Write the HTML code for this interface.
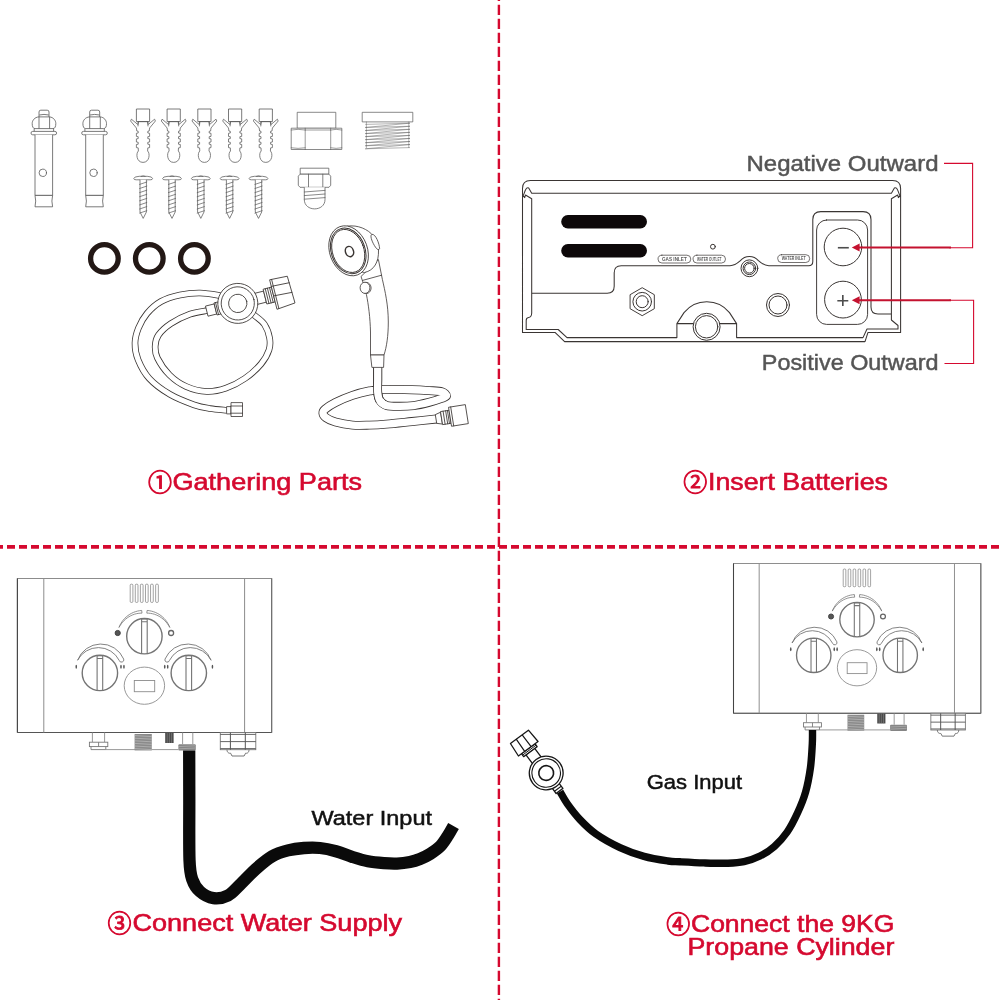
<!DOCTYPE html>
<html lang="en"><head><meta charset="utf-8"><title>Installation steps</title>
<style>
html,body{margin:0;padding:0;background:#fff;}
body{width:1000px;height:1000px;overflow:hidden;}
svg{display:block;will-change:transform;}
text{font-family:"Liberation Sans","DejaVu Sans",sans-serif;}
.t{fill:#d5092f;font-size:24px;stroke:#d5092f;stroke-width:.6px;}
.c{font-family:"Liberation Sans","Noto Sans CJK SC",sans-serif;font-size:24px;stroke-width:.9px;}
.g{fill:#555;font-size:21.5px;stroke:#555;stroke-width:.45px;}
.b{fill:#111;font-size:20.5px;stroke:#111;stroke-width:.5px;}
.l{fill:none;stroke:#3a3533;stroke-width:.8;stroke-linejoin:round;stroke-linecap:round;}
.w{fill:#fff;stroke:#3a3533;stroke-width:.8;stroke-linejoin:round;}
.q2 .l,.q2 .w{stroke-width:1;}
.sm .l,.sm .w{stroke:#585858;}
</style></head><body>
<svg width="1000" height="1000" viewBox="0 0 1000 1000">
<rect width="1000" height="1000" fill="#fff"/>
<line x1="498.9" y1="-9.2" x2="498.9" y2="1000" stroke="#d5092f" stroke-width="2.4" stroke-dasharray="10.3 3.7"/>
<line x1="-5" y1="546.9" x2="1000" y2="546.9" stroke="#d5092f" stroke-width="3.8" stroke-dasharray="8 4"/>
<text class="t c" x="160" y="491.09999999999997" text-anchor="middle">①</text>
<text class="t" x="172.5" y="490.2" textLength="189.5" lengthAdjust="spacingAndGlyphs">Gathering Parts</text>
<text class="t c" x="695.2" y="491.09999999999997" text-anchor="middle">②</text>
<text class="t" x="708" y="490.2" textLength="180" lengthAdjust="spacingAndGlyphs">Insert Batteries</text>
<text class="t c" x="119.5" y="931.9" text-anchor="middle">③</text>
<text class="t" x="132.5" y="931" textLength="269.5" lengthAdjust="spacingAndGlyphs">Connect Water Supply</text>
<text class="t c" x="678.3" y="932.5" text-anchor="middle">④</text>
<text class="t" x="691" y="931.6" textLength="203.29999999999995" lengthAdjust="spacingAndGlyphs">Connect the 9KG</text>
<text class="t" x="687.5" y="954.8" textLength="206.79999999999995" lengthAdjust="spacingAndGlyphs">Propane Cylinder</text>
<text class="g" x="746.5" y="171.3" textLength="192.0" lengthAdjust="spacingAndGlyphs">Negative Outward</text>
<text class="g" x="761.8" y="370.3" textLength="176.70000000000005" lengthAdjust="spacingAndGlyphs">Positive Outward</text>
<text class="b" x="311.5" y="825.3" textLength="120.5" lengthAdjust="spacingAndGlyphs">Water Input</text>
<text class="b" x="646.8" y="788.7" textLength="95.20000000000005" lengthAdjust="spacingAndGlyphs">Gas Input</text>
<circle cx="104.4" cy="258.4" r="13.8" fill="none" stroke="#231815" stroke-width="5.3"/>
<circle cx="149.3" cy="258.4" r="13.8" fill="none" stroke="#231815" stroke-width="5.3"/>
<circle cx="194.4" cy="258.4" r="13.8" fill="none" stroke="#231815" stroke-width="5.3"/>
<defs><g id="heater"><rect x="17.4" y="578.5" width="254.3" height="154" fill="#fff" stroke="#8c8c8c" stroke-width="1"/><line x1="17.4" y1="578.5" x2="17.4" y2="732.5" stroke="#444" stroke-width="1.1"/><line x1="17.4" y1="732.5" x2="271.7" y2="732.5" stroke="#555" stroke-width="1.2"/><line x1="271.7" y1="578.5" x2="271.7" y2="732.5" stroke="#666" stroke-width="1"/><line x1="43.8" y1="578.5" x2="43.8" y2="732.5" stroke="#8c8c8c" stroke-width="1"/><line x1="244.6" y1="578.5" x2="244.6" y2="732.5" stroke="#8c8c8c" stroke-width="1"/><rect x="130.20" y="584.2" width="2.7" height="18.2" rx="1" fill="none" stroke="#7a7a7a" stroke-width=".7"/><rect x="135.29" y="584.2" width="2.7" height="18.2" rx="1" fill="none" stroke="#7a7a7a" stroke-width=".7"/><rect x="140.38" y="584.2" width="2.7" height="18.2" rx="1" fill="none" stroke="#7a7a7a" stroke-width=".7"/><rect x="145.47" y="584.2" width="2.7" height="18.2" rx="1" fill="none" stroke="#7a7a7a" stroke-width=".7"/><rect x="150.56" y="584.2" width="2.7" height="18.2" rx="1" fill="none" stroke="#7a7a7a" stroke-width=".7"/><rect x="155.65" y="584.2" width="2.7" height="18.2" rx="1" fill="none" stroke="#7a7a7a" stroke-width=".7"/><circle cx="144.4" cy="636.2" r="17.7" fill="#fff" stroke="#747474" stroke-width="1.4"/><path d="M141.6 653.6V619.0H147.20000000000002V653.6M141.6 621.8000000000001H147.20000000000002" fill="none" stroke="#747474" stroke-width="1.1"/><circle cx="99.9" cy="672.9" r="17.7" fill="#fff" stroke="#747474" stroke-width="1.4"/><path d="M97.10000000000001 690.3V655.6999999999999H102.7V690.3M97.10000000000001 658.5H102.7" fill="none" stroke="#747474" stroke-width="1.1"/><circle cx="188.8" cy="672.9" r="17.7" fill="#fff" stroke="#747474" stroke-width="1.4"/><path d="M186.0 690.3V655.6999999999999H191.60000000000002V690.3M186.0 658.5H191.60000000000002" fill="none" stroke="#747474" stroke-width="1.1"/><ellipse cx="144.4" cy="685.7" rx="20.2" ry="18.6" fill="none" stroke="#8c8c8c" stroke-width=".9"/><rect x="134.3" y="680.5" width="20.4" height="11.2" fill="none" stroke="#8c8c8c" stroke-width=".9"/><path d="M141.69 610.44 L139.60 610.68 L137.53 611.08 L135.50 611.65 L133.51 612.39 L131.58 613.28 L129.73 614.34 L127.97 615.54 L126.30 616.89 L124.74 618.37 L123.31 619.97 L122.00 621.69 L120.84 623.52 L119.82 625.44 L118.97 627.44 L118.97 627.44 L120.12 625.57 L121.34 623.79 L122.66 622.12 L124.09 620.58 L125.62 619.16 L127.24 617.89 L128.93 616.75 L130.69 615.77 L132.51 614.94 L134.37 614.26 L136.26 613.74 L138.16 613.38 L140.07 613.18 L141.97 613.13Z" fill="#fff" stroke="#747474" stroke-width=".8" stroke-linejoin="round"/><path d="M147.11 610.44 L149.20 610.68 L151.27 611.08 L153.30 611.65 L155.29 612.39 L157.22 613.28 L159.07 614.34 L160.83 615.54 L162.50 616.89 L164.06 618.37 L165.49 619.97 L166.80 621.69 L167.96 623.52 L168.98 625.44 L169.83 627.44 L169.83 627.44 L168.68 625.57 L167.46 623.79 L166.14 622.12 L164.71 620.58 L163.18 619.16 L161.56 617.89 L159.87 616.75 L158.11 615.77 L156.29 614.94 L154.43 614.26 L152.54 613.74 L150.64 613.38 L148.73 613.18 L146.83 613.13Z" fill="#fff" stroke="#747474" stroke-width=".8" stroke-linejoin="round"/><circle cx="117.7" cy="633" r="2.6" fill="#555" stroke="#444" stroke-width="1"/><circle cx="171.1" cy="633" r="2.5" fill="#fff" stroke="#666" stroke-width="1.3"/><path d="M77.60 660.25 A24.81 24.81 0 0 1 123.69 659.08 A2.3 2.3 0 0 1 119.28 660.52 A23.37 23.37 0 0 0 77.60 660.25Z" fill="#fff" stroke="#747474" stroke-width=".9" stroke-linejoin="round"/><ellipse cx="76.25" cy="666.73" rx=".8" ry="2" fill="#555"/><ellipse cx="120.99" cy="666.73" rx=".8" ry="2" fill="#555"/><ellipse cx="123.96" cy="666.73" rx=".8" ry="2" fill="#555"/><path d="M211.10 660.25 A24.81 24.81 0 0 0 165.01 659.08 A2.3 2.3 0 0 0 169.42 660.52 A23.37 23.37 0 0 1 211.10 660.25Z" fill="#fff" stroke="#747474" stroke-width=".9" stroke-linejoin="round"/><ellipse cx="212.45" cy="666.73" rx=".8" ry="2" fill="#555"/><ellipse cx="167.71" cy="666.73" rx=".8" ry="2" fill="#555"/><ellipse cx="164.74" cy="666.73" rx=".8" ry="2" fill="#555"/><path d="M92.4 732.5V742.2M104.6 732.5V742.2" stroke="#8c8c8c" stroke-width=".9" fill="none"/><rect x="89.4" y="742.2" width="18.4" height="4.4" fill="#fff" stroke="#777" stroke-width=".9"/><path d="M98.6 742.2V746.6M91 746.6V749.6H105.8V746.6" stroke="#777" stroke-width=".9" fill="none"/><line x1="105.8" y1="749.6" x2="178.4" y2="749.6" stroke="#8c8c8c" stroke-width=".9"/><rect x="134.6" y="734" width="17.2" height="16.4" fill="#8b8b8b"/><line x1="134.6" y1="735.6" x2="151.8" y2="736.6" stroke="#c4c4c4" stroke-width=".6"/><line x1="134.6" y1="738.2" x2="151.8" y2="739.2" stroke="#c4c4c4" stroke-width=".6"/><line x1="134.6" y1="740.8" x2="151.8" y2="741.8" stroke="#c4c4c4" stroke-width=".6"/><line x1="134.6" y1="743.4" x2="151.8" y2="744.4" stroke="#c4c4c4" stroke-width=".6"/><line x1="134.6" y1="746.0" x2="151.8" y2="747.0" stroke="#c4c4c4" stroke-width=".6"/><line x1="134.6" y1="748.6" x2="151.8" y2="749.6" stroke="#c4c4c4" stroke-width=".6"/><rect x="165.2" y="732.8" width="8.4" height="10.2" fill="#4a4a4a"/><line x1="167.2" y1="733" x2="167.2" y2="743" stroke="#999" stroke-width=".5"/><line x1="169.4" y1="733" x2="169.4" y2="743" stroke="#999" stroke-width=".5"/><line x1="171.6" y1="733" x2="171.6" y2="743" stroke="#999" stroke-width=".5"/><path d="M182.6 732.5V744.2M192.8 732.5V744.2" stroke="#8c8c8c" stroke-width=".9" fill="none"/><rect x="178.4" y="744.2" width="17.4" height="6.4" rx="1" fill="#858585"/><line x1="179" y1="746.6" x2="195.4" y2="745.8" stroke="#b8b8b8" stroke-width=".6"/><line x1="179" y1="748.8" x2="195.4" y2="748.0" stroke="#b8b8b8" stroke-width=".6"/><rect x="220.3" y="732.5" width="35.5" height="17.2" fill="#fff" stroke="#777" stroke-width=".9"/><path d="M220.3 734.4H255.8M220.3 741.6H255.8M220.3 748.6H255.8" stroke="#555" stroke-width=".9" fill="none"/><path d="M230.4 732.5V749.7M245.3 732.5V749.7" stroke="#555" stroke-width="1" fill="none"/><path d="M227 749.7C227 753 229.5 753.5 230.6 753.2L232 756H244.1L245.6 753.2C246.8 753.5 249 753 249 749.7" stroke="#666" stroke-width=".9" fill="none"/></g></defs>
<use href="#heater"/>
<path d="M189.20 750.60 C189.22 758.83 189.25 781.77 189.30 800.00 C189.35 818.23 189.00 846.75 189.50 860.00 C190.00 873.25 190.55 874.25 192.30 879.50 C194.05 884.75 196.47 888.38 200.00 891.50 C203.53 894.62 208.83 897.53 213.50 898.20 C218.17 898.87 223.58 897.73 228.00 895.50 C232.42 893.27 235.33 889.25 240.00 884.80 C244.67 880.35 250.67 873.55 256.00 868.80 C261.33 864.05 266.67 859.37 272.00 856.30 C277.33 853.23 282.67 851.78 288.00 850.40 C293.33 849.02 298.67 848.40 304.00 848.00 C309.33 847.60 314.67 847.47 320.00 848.00 C325.33 848.53 330.67 849.73 336.00 851.20 C341.33 852.67 346.67 855.12 352.00 856.80 C357.33 858.48 362.67 860.23 368.00 861.30 C373.33 862.37 379.17 862.82 384.00 863.20 C388.83 863.58 392.67 863.80 397.00 863.60 C401.33 863.40 406.17 862.77 410.00 862.00 C413.83 861.23 416.67 860.33 420.00 859.00 C423.33 857.67 426.58 856.17 430.00 854.00 C433.42 851.83 437.50 849.08 440.50 846.00 C443.50 842.92 445.83 838.83 448.00 835.50 C450.17 832.17 452.58 827.58 453.50 826.00" fill="none" stroke="#0a0a0a" stroke-width="12.3" stroke-linejoin="round"/>
<use href="#heater" transform="translate(733.5 563.5) scale(0.9726) translate(-17.4 -578.5)"/>
<path d="M812.50 730.00 C812.47 732.33 812.65 737.67 812.30 744.00 C811.95 750.33 811.52 760.00 810.40 768.00 C809.28 776.00 807.73 784.53 805.60 792.00 C803.47 799.47 800.67 806.13 797.60 812.80 C794.53 819.47 791.07 826.40 787.20 832.00 C783.33 837.60 778.93 842.40 774.40 846.40 C769.87 850.40 765.07 853.47 760.00 856.00 C754.93 858.53 749.33 860.40 744.00 861.60 C738.67 862.80 734.67 862.98 728.00 863.20 C721.33 863.42 712.00 863.13 704.00 862.90 C696.00 862.67 686.00 862.12 680.00 861.80 C674.00 861.48 674.00 861.90 668.00 861.00 C662.00 860.10 652.00 858.63 644.00 856.40 C636.00 854.17 628.00 851.33 620.00 847.60 C612.00 843.87 602.67 838.67 596.00 834.00 C589.33 829.33 584.80 824.67 580.00 819.60 C575.20 814.53 570.53 808.27 567.20 803.60 C563.87 798.93 561.20 793.60 560.00 791.60" fill="none" stroke="#0a0a0a" stroke-width="7.4" stroke-linejoin="round"/>
<g class="q2">
<path class="l" d="M530.5 180.5H892.6Q900.6 180.5 900.6 188.5V332.4H868L865 341.6H564.6L555 332.4H522.5V188.5Q522.5 180.5 530.5 180.5Z M523.3 195.6L525.1 190.8Q526.5 186.8 528.7 188L531.7 193.2H891.4L894.4 188Q896.6 186.8 898 190.8L899.8 195.6 M891.4 198.8L897.6 195L898.4 197.6L900.4 195.4 M531.7 198.8L525.5 195L524.7 197.6L522.7 195.4 M531.7 198.8V313Q531.6 317.2 528.5 317.6Q526.2 318 526.2 320.5V329.5H558.2L567 337.6H676.9V323.6 M736.6 323.6V337.6H863L867 329H898V325.5L891.4 320V198.8 M531.6 293.2H607.2Q614.2 293.2 614.2 286.2V272.7Q614.2 265.7 621.2 265.7H730C735 265.7 737.6 263.2 740.4 260.7A11.8 11.8 0 0 1 758.4 260.7C761.2 263.2 763.8 265.7 768.8 265.7H808.6Q812.8 265.7 812.8 261.5V219.6Q812.8 211.6 820.8 211.6H863Q871 211.6 871 219.6V307Q871 314 878 314H891.2 M676.9 323.6L684 312.6A29.2 29.2 0 0 1 729.5 312.6L736.6 323.6 M676.9 323.6H736.6" style="stroke-width:1.05"/>
<rect x="561.2" y="215" width="85.8" height="13.4" rx="6.7" fill="#0d0809"/>
<rect x="561.2" y="244" width="85.8" height="13.4" rx="6.7" fill="#0d0809"/>
<path class="w" d="M642.20 287.70 L654.32 294.70 L654.32 308.70 L642.20 315.70 L630.08 308.70 L630.08 294.70Z" style="stroke-width:.95"/>
<circle class="l" cx="642.2" cy="301.7" r="9.3"/><circle class="l" cx="642.2" cy="301.7" r="6"/>
<circle class="w" cx="706.6" cy="326.8" r="13.5"/><circle class="l" cx="706.6" cy="326.8" r="11.2"/>
<circle class="l" cx="749.4" cy="268.3" r="8.4"/><circle class="l" cx="749.4" cy="268.3" r="6.3"/><circle class="l" cx="749.4" cy="268.3" r="4.8"/>
<circle class="l" cx="712.9" cy="246.7" r="2.4"/>
<circle class="l" cx="778" cy="305" r="11.5"/><circle class="l" cx="778" cy="305" r="9"/>
<rect class="l" x="658" y="255.2" width="32.799999999999955" height="7.800000000000011" rx="3.9000000000000057" style="stroke-width:.7"/>
<text x="674.4" y="260.8" text-anchor="middle" font-size="4.6" font-weight="bold" fill="#5a5a5a" textLength="24.799999999999955" lengthAdjust="spacingAndGlyphs">GAS INLET</text>
<rect class="l" x="693" y="255.2" width="32.5" height="7.800000000000011" rx="3.9000000000000057" style="stroke-width:.7"/>
<text x="709.25" y="260.8" text-anchor="middle" font-size="4.6" font-weight="bold" fill="#5a5a5a" textLength="24.5" lengthAdjust="spacingAndGlyphs">WATER OUTLET</text>
<rect class="l" x="777.7" y="254.7" width="32.0" height="7.800000000000011" rx="3.9000000000000057" style="stroke-width:.7"/>
<text x="793.7" y="260.3" text-anchor="middle" font-size="4.6" font-weight="bold" fill="#5a5a5a" textLength="24.0" lengthAdjust="spacingAndGlyphs">WATER INLET</text>
<rect class="l" x="816.6" y="220" width="51" height="104.4" rx="10" style="stroke-width:.95"/>
<circle class="l" cx="843" cy="247" r="18.8"/><circle class="l" cx="843" cy="299.6" r="18.4"/>
<text x="843.2" y="254.9" text-anchor="middle" fill="#4d4d4d" style="font-size:22.5px">−</text>
<text x="842.9" y="308" text-anchor="middle" fill="#4d4d4d" style="font-size:22.5px">+</text>
<path d="M944 163.4H972.6V247.8H949 M949 300.3H973.6V363.5H944.5" fill="none" stroke="#d5092f" stroke-width="1.1"/>
<path d="M857 247.6H951 M857 300.2H951" fill="none" stroke="#c4122f" stroke-width="2"/>
<path d="M851.8 247.6L859.6 243.6V251.6Z M851.8 300.2L859.6 296.2V304.2Z" fill="#c4122f"/>
</g>
<g class="sm">
<path class="w" d="M39 117V112Q39 110.2 40.8 110.2H47.2Q49 110.2 49 112V117 M38.9 116.9C34.5 117.2 32.2 120.5 32.2 123.5C32.2 126.5 33 128.6 35 128.6H53C55 128.6 55.8 126.5 55.8 123.5C55.8 120.5 53.5 117.2 49.4 116.9Z M39 116.9V128.6M49.6 116.9V128.6 M39.2 115Q44 113.8 48.8 115 M34.2 128.6V131.4M53.6 128.6V131.4"/>
<rect class="w" x="31" y="131.4" width="25.6" height="3.4" rx="1.7"/>
<path class="w" d="M35 134.8V195.4H52.6V134.8"/>
<circle class="l" cx="42.8" cy="172.8" r="3.7"/>
<path class="w" d="M35 195.4Q36.4 201 35 206.8H52.6Q51.2 201 52.6 195.4Z"/>
<path class="w" d="M89.7 117V112Q89.7 110.2 91.5 110.2H97.9Q99.7 110.2 99.7 112V117 M89.6 116.9C85.2 117.2 82.9 120.5 82.9 123.5C82.9 126.5 83.7 128.6 85.7 128.6H103.7C105.7 128.6 106.5 126.5 106.5 123.5C106.5 120.5 104.2 117.2 100.1 116.9Z M89.7 116.9V128.6M100.30000000000001 116.9V128.6 M89.9 115Q94.7 113.8 99.5 115 M84.9 128.6V131.4M104.30000000000001 128.6V131.4"/>
<rect class="w" x="81.7" y="131.4" width="25.6" height="3.4" rx="1.7"/>
<path class="w" d="M85.7 134.8V195.4H103.30000000000001V134.8"/>
<circle class="l" cx="93.5" cy="172.8" r="3.7"/>
<path class="w" d="M85.7 195.4Q87.1 201 85.7 206.8H103.30000000000001Q101.9 201 103.30000000000001 195.4Z"/>
<rect class="w" x="136.4" y="109" width="13.2" height="12.6"/>
<path class="w" d="M147.80 121.60 L148.20 124.50 L154.60 119.20 L155.40 121.00 L149.60 128.00 L149.20 131.00 L147.80 131.30 L147.80 133.00 L149.60 133.30 L149.60 136.40 L147.80 136.70 L147.80 138.60 L149.60 138.90 L149.60 142.00 L147.80 142.30 L147.80 144.20 L149.60 144.50 L149.60 147.60 L147.80 147.90 L147.60 151.00 C150.20 153 149.80 162.4 143.00 162.4 C136.20 162.4 135.80 153 138.40 151 L138.20 147.90 L136.40 147.60 L136.40 144.50 L138.20 144.20 L138.20 142.30 L136.40 142.00 L136.40 138.90 L138.20 138.60 L138.20 136.70 L136.40 136.40 L136.40 133.30 L138.20 133.00 L138.20 131.30 L136.80 131.00 L136.40 128.00 L130.60 121.00 L131.40 119.20 L137.80 124.50 L138.20 121.60Z" style="stroke-width:.75"/>
<path class="l" d="M138 121.6H148 M138.4 122.4L138 126 M147.6 122.4L148 126" style="stroke-width:.75"/>
<rect class="w" x="167.1" y="109" width="13.2" height="12.6"/>
<path class="w" d="M178.50 121.60 L178.90 124.50 L185.30 119.20 L186.10 121.00 L180.30 128.00 L179.90 131.00 L178.50 131.30 L178.50 133.00 L180.30 133.30 L180.30 136.40 L178.50 136.70 L178.50 138.60 L180.30 138.90 L180.30 142.00 L178.50 142.30 L178.50 144.20 L180.30 144.50 L180.30 147.60 L178.50 147.90 L178.30 151.00 C180.90 153 180.50 162.4 173.70 162.4 C166.90 162.4 166.50 153 169.10 151 L168.90 147.90 L167.10 147.60 L167.10 144.50 L168.90 144.20 L168.90 142.30 L167.10 142.00 L167.10 138.90 L168.90 138.60 L168.90 136.70 L167.10 136.40 L167.10 133.30 L168.90 133.00 L168.90 131.30 L167.50 131.00 L167.10 128.00 L161.30 121.00 L162.10 119.20 L168.50 124.50 L168.90 121.60Z" style="stroke-width:.75"/>
<path class="l" d="M168.7 121.6H178.7 M169.1 122.4L168.7 126 M178.29999999999998 122.4L178.7 126" style="stroke-width:.75"/>
<rect class="w" x="197.8" y="109" width="13.2" height="12.6"/>
<path class="w" d="M209.20 121.60 L209.60 124.50 L216.00 119.20 L216.80 121.00 L211.00 128.00 L210.60 131.00 L209.20 131.30 L209.20 133.00 L211.00 133.30 L211.00 136.40 L209.20 136.70 L209.20 138.60 L211.00 138.90 L211.00 142.00 L209.20 142.30 L209.20 144.20 L211.00 144.50 L211.00 147.60 L209.20 147.90 L209.00 151.00 C211.60 153 211.20 162.4 204.40 162.4 C197.60 162.4 197.20 153 199.80 151 L199.60 147.90 L197.80 147.60 L197.80 144.50 L199.60 144.20 L199.60 142.30 L197.80 142.00 L197.80 138.90 L199.60 138.60 L199.60 136.70 L197.80 136.40 L197.80 133.30 L199.60 133.00 L199.60 131.30 L198.20 131.00 L197.80 128.00 L192.00 121.00 L192.80 119.20 L199.20 124.50 L199.60 121.60Z" style="stroke-width:.75"/>
<path class="l" d="M199.4 121.6H209.4 M199.8 122.4L199.4 126 M209.0 122.4L209.4 126" style="stroke-width:.75"/>
<rect class="w" x="228.5" y="109" width="13.2" height="12.6"/>
<path class="w" d="M239.90 121.60 L240.30 124.50 L246.70 119.20 L247.50 121.00 L241.70 128.00 L241.30 131.00 L239.90 131.30 L239.90 133.00 L241.70 133.30 L241.70 136.40 L239.90 136.70 L239.90 138.60 L241.70 138.90 L241.70 142.00 L239.90 142.30 L239.90 144.20 L241.70 144.50 L241.70 147.60 L239.90 147.90 L239.70 151.00 C242.30 153 241.90 162.4 235.10 162.4 C228.30 162.4 227.90 153 230.50 151 L230.30 147.90 L228.50 147.60 L228.50 144.50 L230.30 144.20 L230.30 142.30 L228.50 142.00 L228.50 138.90 L230.30 138.60 L230.30 136.70 L228.50 136.40 L228.50 133.30 L230.30 133.00 L230.30 131.30 L228.90 131.00 L228.50 128.00 L222.70 121.00 L223.50 119.20 L229.90 124.50 L230.30 121.60Z" style="stroke-width:.75"/>
<path class="l" d="M230.1 121.6H240.1 M230.5 122.4L230.1 126 M239.7 122.4L240.1 126" style="stroke-width:.75"/>
<rect class="w" x="259.2" y="109" width="13.2" height="12.6"/>
<path class="w" d="M270.60 121.60 L271.00 124.50 L277.40 119.20 L278.20 121.00 L272.40 128.00 L272.00 131.00 L270.60 131.30 L270.60 133.00 L272.40 133.30 L272.40 136.40 L270.60 136.70 L270.60 138.60 L272.40 138.90 L272.40 142.00 L270.60 142.30 L270.60 144.20 L272.40 144.50 L272.40 147.60 L270.60 147.90 L270.40 151.00 C273.00 153 272.60 162.4 265.80 162.4 C259.00 162.4 258.60 153 261.20 151 L261.00 147.90 L259.20 147.60 L259.20 144.50 L261.00 144.20 L261.00 142.30 L259.20 142.00 L259.20 138.90 L261.00 138.60 L261.00 136.70 L259.20 136.40 L259.20 133.30 L261.00 133.00 L261.00 131.30 L259.60 131.00 L259.20 128.00 L253.40 121.00 L254.20 119.20 L260.60 124.50 L261.00 121.60Z" style="stroke-width:.75"/>
<path class="l" d="M260.8 121.6H270.8 M261.2 122.4L260.8 126 M270.40000000000003 122.4L270.8 126" style="stroke-width:.75"/>
<path class="w" d="M133.79999999999998 178.6Q133.79999999999998 176.6 139.2 176.3H147.2Q152.6 176.6 152.6 178.6Q152.6 179.8 150.2 179.8H136.2Q133.79999999999998 179.8 133.79999999999998 178.6Z" style="stroke-width:.75"/>
<path class="l" d="M141.2 176.3Q143.2 175.4 145.2 176.3" style="stroke-width:.75"/>
<path class="w" d="M140.0 179.8V212L143.2 218.4L146.39999999999998 212V179.8" style="stroke-width:.75"/>
<path class="l" d="M139.6 184.4L146.79999999999998 182.0M139.6 188.5L146.79999999999998 186.1M139.6 192.6L146.79999999999998 190.2M139.6 196.7L146.79999999999998 194.3M139.6 200.8L146.79999999999998 198.4M139.6 204.9L146.79999999999998 202.5M139.6 209.0L146.79999999999998 206.6M139.6 213.1L146.79999999999998 210.7" style="stroke-width:.7"/>
<path class="w" d="M162.6 178.6Q162.6 176.6 168 176.3H176Q181.4 176.6 181.4 178.6Q181.4 179.8 179 179.8H165Q162.6 179.8 162.6 178.6Z" style="stroke-width:.75"/>
<path class="l" d="M170 176.3Q172 175.4 174 176.3" style="stroke-width:.75"/>
<path class="w" d="M168.8 179.8V212L172 218.4L175.2 212V179.8" style="stroke-width:.75"/>
<path class="l" d="M168.4 184.4L175.6 182.0M168.4 188.5L175.6 186.1M168.4 192.6L175.6 190.2M168.4 196.7L175.6 194.3M168.4 200.8L175.6 198.4M168.4 204.9L175.6 202.5M168.4 209.0L175.6 206.6M168.4 213.1L175.6 210.7" style="stroke-width:.7"/>
<path class="w" d="M191.4 178.6Q191.4 176.6 196.8 176.3H204.8Q210.20000000000002 176.6 210.20000000000002 178.6Q210.20000000000002 179.8 207.8 179.8H193.8Q191.4 179.8 191.4 178.6Z" style="stroke-width:.75"/>
<path class="l" d="M198.8 176.3Q200.8 175.4 202.8 176.3" style="stroke-width:.75"/>
<path class="w" d="M197.60000000000002 179.8V212L200.8 218.4L204.0 212V179.8" style="stroke-width:.75"/>
<path class="l" d="M197.20000000000002 184.4L204.4 182.0M197.20000000000002 188.5L204.4 186.1M197.20000000000002 192.6L204.4 190.2M197.20000000000002 196.7L204.4 194.3M197.20000000000002 200.8L204.4 198.4M197.20000000000002 204.9L204.4 202.5M197.20000000000002 209.0L204.4 206.6M197.20000000000002 213.1L204.4 210.7" style="stroke-width:.7"/>
<path class="w" d="M220.2 178.6Q220.2 176.6 225.6 176.3H233.6Q239.0 176.6 239.0 178.6Q239.0 179.8 236.6 179.8H222.6Q220.2 179.8 220.2 178.6Z" style="stroke-width:.75"/>
<path class="l" d="M227.6 176.3Q229.6 175.4 231.6 176.3" style="stroke-width:.75"/>
<path class="w" d="M226.4 179.8V212L229.6 218.4L232.79999999999998 212V179.8" style="stroke-width:.75"/>
<path class="l" d="M226.0 184.4L233.2 182.0M226.0 188.5L233.2 186.1M226.0 192.6L233.2 190.2M226.0 196.7L233.2 194.3M226.0 200.8L233.2 198.4M226.0 204.9L233.2 202.5M226.0 209.0L233.2 206.6M226.0 213.1L233.2 210.7" style="stroke-width:.7"/>
<path class="w" d="M249.1 178.6Q249.1 176.6 254.5 176.3H262.5Q267.9 176.6 267.9 178.6Q267.9 179.8 265.5 179.8H251.5Q249.1 179.8 249.1 178.6Z" style="stroke-width:.75"/>
<path class="l" d="M256.5 176.3Q258.5 175.4 260.5 176.3" style="stroke-width:.75"/>
<path class="w" d="M255.3 179.8V212L258.5 218.4L261.7 212V179.8" style="stroke-width:.75"/>
<path class="l" d="M254.9 184.4L262.1 182.0M254.9 188.5L262.1 186.1M254.9 192.6L262.1 190.2M254.9 196.7L262.1 194.3M254.9 200.8L262.1 198.4M254.9 204.9L262.1 202.5M254.9 209.0L262.1 206.6M254.9 213.1L262.1 210.7" style="stroke-width:.7"/>
<rect class="w" x="297.2" y="112.3" width="38.6" height="16" style="stroke-width:.7"/>
<rect class="w" x="291.2" y="128.2" width="50.6" height="21.3" style="stroke-width:.7"/>
<path class="l" d="M305.2 128.2V149.5M330.7 128.2V149.5M291.2 130Q298 128.6 305.2 130M305.2 130H330.7M330.7 130Q336 128.6 341.8 130M291.2 147.8Q298 149 305.2 147.8M330.7 147.8Q336 149 341.8 147.8" style="stroke-width:.6"/>
<rect class="w" x="362.2" y="112.3" width="50.6" height="9.6" style="stroke-width:.7"/>
<path class="l" d="M366.4 122V147.6M408.8 122V147.6M365.6 124.40L409.6 123.20M409.6 123.20L365.6 127.45M365.6 127.45L409.6 126.25M409.6 126.25L365.6 130.50M365.6 130.50L409.6 129.30M409.6 129.30L365.6 133.55M365.6 133.55L409.6 132.35M409.6 132.35L365.6 136.60M365.6 136.60L409.6 135.40M409.6 135.40L365.6 139.65M365.6 139.65L409.6 138.45M409.6 138.45L365.6 142.70M365.6 142.70L409.6 141.50M409.6 141.50L365.6 145.75M365.6 145.75L409.6 144.55M409.6 144.55L365.6 148.80M365.6 148.80L409.6 147.60" style="stroke-width:.45"/>
<rect class="w" x="300.2" y="168.2" width="28.6" height="6" style="stroke-width:.75"/>
<path class="w" d="M298.3 176.2L300 174.2H329L330.7 176.2V185.3L329 187.3H300L298.3 185.3Z" style="stroke-width:.75"/>
<path class="l" d="M308.5 174.2V187.3M322.8 174.2V187.3" style="stroke-width:.75"/>
<path class="w" d="M304.3 187.3V199.5C304.3 212 325 212 325 199.5V187.3" style="stroke-width:.75"/>
<path class="l" d="M304.3 192L325 190.4M304.3 195.6L325 194M304.3 199.2L325 197.6" style="stroke-width:.7"/>
</g>
<path d="M232.00 299.00 C229.83 298.42 224.33 296.50 219.00 295.50 C213.67 294.50 206.50 293.08 200.00 293.00 C193.50 292.92 186.50 293.58 180.00 295.00 C173.50 296.42 166.50 298.42 161.00 301.50 C155.50 304.58 150.75 309.08 147.00 313.50 C143.25 317.92 140.50 323.08 138.50 328.00 C136.50 332.92 135.08 337.75 135.00 343.00 C134.92 348.25 135.63 353.60 138.00 359.50 C140.37 365.40 143.87 372.58 149.20 378.40 C154.53 384.22 162.53 390.00 170.00 394.40 C177.47 398.80 187.33 402.43 194.00 404.80 C200.67 407.17 204.57 407.68 210.00 408.60 C215.43 409.52 223.83 410.02 226.60 410.30" fill="none" stroke="#3a3533" stroke-width="6.6" stroke-linecap="butt" stroke-linejoin="round"/>
<path d="M232.00 299.00 C229.83 298.42 224.33 296.50 219.00 295.50 C213.67 294.50 206.50 293.08 200.00 293.00 C193.50 292.92 186.50 293.58 180.00 295.00 C173.50 296.42 166.50 298.42 161.00 301.50 C155.50 304.58 150.75 309.08 147.00 313.50 C143.25 317.92 140.50 323.08 138.50 328.00 C136.50 332.92 135.08 337.75 135.00 343.00 C134.92 348.25 135.63 353.60 138.00 359.50 C140.37 365.40 143.87 372.58 149.20 378.40 C154.53 384.22 162.53 390.00 170.00 394.40 C177.47 398.80 187.33 402.43 194.00 404.80 C200.67 407.17 204.57 407.68 210.00 408.60 C215.43 409.52 223.83 410.02 226.60 410.30" fill="none" stroke="#fff" stroke-width="5.0" stroke-linecap="butt" stroke-linejoin="round"/>
<path d="M207.00 310.60 C204.17 311.20 196.00 312.05 190.00 314.20 C184.00 316.35 176.25 320.03 171.00 323.50 C165.75 326.97 161.13 331.25 158.50 335.00 C155.87 338.75 155.38 342.17 155.20 346.00 C155.02 349.83 155.02 353.17 157.40 358.00 C159.78 362.83 164.73 370.27 169.50 375.00 C174.27 379.73 179.78 383.65 186.00 386.40 C192.22 389.15 200.13 391.20 206.80 391.50 C213.47 391.80 219.63 390.38 226.00 388.20 C232.37 386.02 239.17 382.43 245.00 378.40 C250.83 374.37 257.00 368.73 261.00 364.00 C265.00 359.27 267.57 354.33 269.00 350.00 C270.43 345.67 270.35 342.25 269.60 338.00 C268.85 333.75 266.98 328.25 264.50 324.50 C262.02 320.75 258.12 318.42 254.70 315.50 C251.28 312.58 245.78 308.42 244.00 307.00" fill="none" stroke="#3a3533" stroke-width="6.6" stroke-linecap="butt" stroke-linejoin="round"/>
<path d="M207.00 310.60 C204.17 311.20 196.00 312.05 190.00 314.20 C184.00 316.35 176.25 320.03 171.00 323.50 C165.75 326.97 161.13 331.25 158.50 335.00 C155.87 338.75 155.38 342.17 155.20 346.00 C155.02 349.83 155.02 353.17 157.40 358.00 C159.78 362.83 164.73 370.27 169.50 375.00 C174.27 379.73 179.78 383.65 186.00 386.40 C192.22 389.15 200.13 391.20 206.80 391.50 C213.47 391.80 219.63 390.38 226.00 388.20 C232.37 386.02 239.17 382.43 245.00 378.40 C250.83 374.37 257.00 368.73 261.00 364.00 C265.00 359.27 267.57 354.33 269.00 350.00 C270.43 345.67 270.35 342.25 269.60 338.00 C268.85 333.75 266.98 328.25 264.50 324.50 C262.02 320.75 258.12 318.42 254.70 315.50 C251.28 312.58 245.78 308.42 244.00 307.00" fill="none" stroke="#fff" stroke-width="5.0" stroke-linecap="butt" stroke-linejoin="round"/>
<path class="w" d="M226.6 406.6H231V413.9H226.6Z"/>
<rect class="w" x="231" y="402.6" width="11.5" height="13.9"/>
<path class="l" d="M231 406H242.5M231 413.2H242.5"/>
<g transform="translate(237.8 303.4) rotate(-14)"><rect class="w" x="-32" y="-5.2" width="9" height="10.4"/><path class="w" d="M-23 -6.2H-19V6.2H-23Z"/><path class="l" d="M-21.4 -6.2V6.2"/><rect class="w" x="19" y="-5.7" width="9" height="11.4"/><rect class="w" x="28" y="-7.6" width="8.6" height="15.2"/><path class="l" d="M30.2 -7.6V7.6M32.4 -7.6V7.6M34.6 -7.6V7.6"/><path class="w" d="M36.6 -15.2L54.6 -14.4L55.6 13.4L36.6 15.2Z"/><path class="l" d="M38.6 -15.1V15M36.6 -8.4L54.9 -7.6M36.6 1.4L55.2 2.4"/><circle class="w" r="20"/><circle class="l" r="16.6"/><circle class="l" r="9.2"/></g>
<path d="M377.70 367.00 C377.70 369.17 377.70 375.78 377.70 380.00 C377.70 384.22 377.33 388.87 377.70 392.30 C378.07 395.73 378.43 398.42 379.90 400.60 C381.37 402.78 383.42 404.45 386.50 405.40 C389.58 406.35 393.87 406.27 398.40 406.30 C402.93 406.33 408.61 406.22 413.71 405.56 C418.81 404.90 424.47 403.49 429.01 402.33 C433.54 401.17 437.99 399.67 440.91 398.59 C443.83 397.52 446.38 397.01 446.52 395.87 C446.66 394.74 444.68 392.67 441.76 391.79 C438.84 390.91 433.97 390.94 429.01 390.60 C424.05 390.26 419.66 389.95 412.01 389.75 C404.36 389.55 390.19 389.21 383.10 389.41 C376.02 389.61 374.60 389.95 369.50 390.94 C364.40 391.93 358.17 393.44 352.50 395.36 C346.84 397.29 340.04 400.24 335.50 402.50 C330.97 404.77 327.40 407.21 325.30 408.96 C323.20 410.72 322.78 411.57 322.92 413.04 C323.06 414.52 324.05 416.30 326.15 417.80 C328.25 419.31 331.11 420.84 335.50 422.05 C339.89 423.27 346.84 424.60 352.50 425.11 C358.17 425.62 363.84 425.28 369.50 425.11 C375.17 424.94 379.42 424.69 386.50 424.09 C393.59 423.50 403.65 422.39 412.01 421.54 C420.36 420.69 432.55 419.42 436.66 418.99" fill="none" stroke="#3a3533" stroke-width="8.9" stroke-linecap="butt" stroke-linejoin="round"/>
<path d="M377.70 367.00 C377.70 369.17 377.70 375.78 377.70 380.00 C377.70 384.22 377.33 388.87 377.70 392.30 C378.07 395.73 378.43 398.42 379.90 400.60 C381.37 402.78 383.42 404.45 386.50 405.40 C389.58 406.35 393.87 406.27 398.40 406.30 C402.93 406.33 408.61 406.22 413.71 405.56 C418.81 404.90 424.47 403.49 429.01 402.33 C433.54 401.17 437.99 399.67 440.91 398.59 C443.83 397.52 446.38 397.01 446.52 395.87 C446.66 394.74 444.68 392.67 441.76 391.79 C438.84 390.91 433.97 390.94 429.01 390.60 C424.05 390.26 419.66 389.95 412.01 389.75 C404.36 389.55 390.19 389.21 383.10 389.41 C376.02 389.61 374.60 389.95 369.50 390.94 C364.40 391.93 358.17 393.44 352.50 395.36 C346.84 397.29 340.04 400.24 335.50 402.50 C330.97 404.77 327.40 407.21 325.30 408.96 C323.20 410.72 322.78 411.57 322.92 413.04 C323.06 414.52 324.05 416.30 326.15 417.80 C328.25 419.31 331.11 420.84 335.50 422.05 C339.89 423.27 346.84 424.60 352.50 425.11 C358.17 425.62 363.84 425.28 369.50 425.11 C375.17 424.94 379.42 424.69 386.50 424.09 C393.59 423.50 403.65 422.39 412.01 421.54 C420.36 420.69 432.55 419.42 436.66 418.99" fill="none" stroke="#fff" stroke-width="7.300000000000001" stroke-linecap="butt" stroke-linejoin="round"/>
<path d="M377.70 367.00 C377.70 369.17 377.70 375.78 377.70 380.00 C377.70 384.22 377.33 388.87 377.70 392.30 C378.07 395.73 378.43 398.42 379.90 400.60" fill="none" stroke="#3a3533" stroke-width="8.9"/>
<path d="M377.70 367.00 C377.70 369.17 377.70 375.78 377.70 380.00 C377.70 384.22 377.33 388.87 377.70 392.30 C378.07 395.73 378.43 398.42 379.90 400.60 C381.37 402.78 383.42 404.45 386.50 405.40" fill="none" stroke="#fff" stroke-width="7.3"/>
<g transform="translate(436 419) rotate(-9)"><path class="w" d="M0 -4.4L5.6 -6V6L0 4.4Z"/><rect class="w" x="5.6" y="-6.6" width="8.6" height="13.2"/><path class="l" d="M8.2 -6.6V6.6M10.8 -6.6V6.6M12.6 -6.6V6.6"/><rect class="w" x="14.2" y="-9.6" width="17" height="19.2"/><path class="l" d="M16.4 -9.6V9.6"/></g>
<path class="w" d="M361 276.5L363.4 283.5C364.8 287 366 292 366.4 294.5C368.4 304 370.2 318 370.5 332V355H384C386.6 347 388.3 336 388.3 322C388.3 305 385 291 382.4 279.5L378.4 259.5Z"/>
<path class="l" d="M362.6 280.4L381.6 275.2"/>
<path class="w" d="M370.5 355H384L383.6 367.4H371.9Z"/>
<path class="w" d="M347 226.2C358 224.5 368 229.5 373 235.5L378.5 250C379 262 374 270.5 364.5 272.5L352 270Z"/>
<path class="w" d="M372.2 234.4C375.5 234 379.5 243.5 379.6 248.8C379.2 250 377.5 249.6 376.6 248.6C373.5 245 370.6 238.5 371 235.6C371.2 234.8 371.6 234.5 372.2 234.4Z"/>
<g transform="translate(348.6 250.8) rotate(-20)"><ellipse class="w" rx="18.9" ry="25.7"/><ellipse class="l" cx="-.4" rx="16.9" ry="23.5" style="stroke-width:1"/><ellipse class="l" cx="-.4" rx="15.7" ry="22.2" style="stroke-width:.9"/><ellipse class="l" cx="0.6" cy="1" rx="4" ry="5.2" style="stroke-width:1.5"/></g>
<ellipse class="w" cx="366.2" cy="288" rx="4.9" ry="5.6"/><ellipse class="w" cx="365" cy="287.8" rx="4.9" ry="5.6"/>
<g transform="translate(546.2 773) rotate(233.5)" fill="#fff" stroke="#161616" stroke-width="1.3" stroke-linejoin="round"><path d="M-16 -4.2H-22.4V4.2H-16Z"/><path d="M-19.6 -4.2V4.2" fill="none" stroke-width="1"/><path d="M15 -5.4H27V5.4H15Z"/><path d="M26.6 -8.4H30.2V8.4H26.6Z"/><path d="M28.4 -8.4V8.4" fill="none" stroke-width=".9"/><path d="M30.2 -12.2L45 -11.2V11.2L30.2 12.2Z"/><path d="M30.2 -4.4L45 -4M30.2 3.6L45 3.4" fill="none" stroke-width="1.2"/><circle r="16.9"/><circle r="14.3" fill="none" stroke-width="1.1"/><circle r="7.4" fill="none" stroke-width="1.6"/></g>
</svg>
</body></html>
